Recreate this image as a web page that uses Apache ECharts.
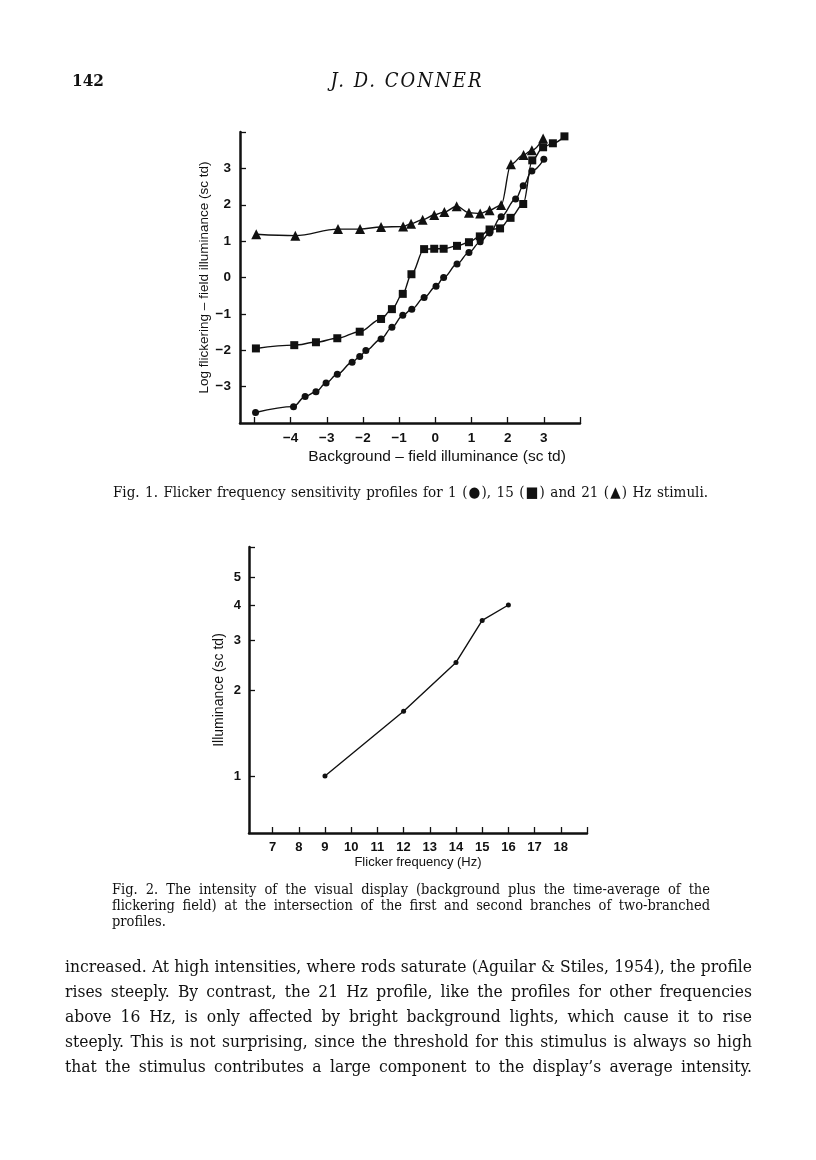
<!DOCTYPE html>
<html><head><meta charset="utf-8">
<script src="https://cdn.jsdelivr.net/npm/echarts@6/dist/echarts.min.js"></script>
<style>
html,body{margin:0;padding:0;background:#fff;}
#page{position:relative;width:816px;height:1160px;overflow:hidden;}
#chart{position:absolute;left:0;top:0;width:816px;height:1160px;}
.t{position:absolute;font-family:"DejaVu Serif Condensed","DejaVu Serif",serif;font-stretch:condensed;color:#111;white-space:nowrap;}
.j{text-align:justify;text-align-last:justify;white-space:normal;}
</style></head><body>
<div id="page">
<div id="chart"></div>
<div class="t" style="left:72px;top:70px;font-size:17px;font-weight:bold;">142</div>
<div class="t" style="left:297px;top:68px;width:220px;font-size:20px;font-style:italic;text-align:center;letter-spacing:2px;">J. D. CONNER</div>
<div class="t j" style="left:113px;top:483px;width:595px;font-size:15px;">Fig. 1. Flicker frequency sensitivity profiles for 1 (●), 15 (■) and 21 (▲) Hz stimuli.</div>
<div class="t j" style="left:112px;top:881px;width:598px;font-size:14.5px;">Fig. 2. The intensity of the visual display (background plus the time-average of the</div>
<div class="t j" style="left:112px;top:897px;width:598px;font-size:14.5px;">flickering field) at the intersection of the first and second branches of two-branched</div>
<div class="t" style="left:112px;top:913px;font-size:14.5px;">profiles.</div>
<div class="t j" style="left:65px;top:956px;width:687px;font-size:17.3px;">increased. At high intensities, where rods saturate (Aguilar &amp; Stiles, 1954), the profile</div>
<div class="t j" style="left:65px;top:981px;width:687px;font-size:17.3px;">rises steeply. By contrast, the 21 Hz profile, like the profiles for other frequencies</div>
<div class="t j" style="left:65px;top:1006px;width:687px;font-size:17.3px;">above 16 Hz, is only affected by bright background lights, which cause it to rise</div>
<div class="t j" style="left:65px;top:1031px;width:687px;font-size:17.3px;">steeply. This is not surprising, since the threshold for this stimulus is always so high</div>
<div class="t j" style="left:65px;top:1056px;width:687px;font-size:17.3px;">that the stimulus contributes a large component to the display’s average intensity.</div>
</div>
<script>
// Fig. 1 data (log background vs log threshold)
const circleX = [-4.97,-3.92,-3.60,-3.30,-3.02,-2.71,-2.30,-2.09,-1.92,-1.50,-1.20,-0.90,-0.65,-0.31,0.02,0.23,0.60,0.93,1.24,1.50,1.82,2.22,2.43,2.67,3.00];
const circleY = [-3.71,-3.55,-3.27,-3.14,-2.90,-2.66,-2.33,-2.17,-2.01,-1.69,-1.37,-1.04,-0.87,-0.55,-0.24,0.00,0.37,0.69,0.98,1.22,1.67,2.16,2.52,2.93,3.25];
const squareX = [-4.96,-3.90,-3.30,-2.71,-2.09,-1.50,-1.20,-0.90,-0.66,-0.31,-0.03,0.23,0.60,0.93,1.23,1.50,1.79,2.08,2.43,2.68,2.98,3.25,3.57];
const squareY = [-1.95,-1.86,-1.78,-1.67,-1.49,-1.14,-0.87,-0.45,0.09,0.78,0.79,0.79,0.87,0.97,1.13,1.32,1.35,1.64,2.02,3.22,3.58,3.69,3.88];
const triX = [-4.95,-3.87,-2.69,-2.08,-1.50,-0.89,-0.67,-0.35,-0.03,0.25,0.59,0.93,1.24,1.50,1.82,2.09,2.44,2.67,2.98];
const triY = [1.19,1.15,1.33,1.33,1.39,1.40,1.48,1.59,1.72,1.80,1.96,1.78,1.76,1.85,1.99,3.11,3.37,3.50,3.82];
const fig1XTicks = [-5,-4,-3,-2,-1,0,1,2,3,4];
const fig1XLabels = [-4,-3,-2,-1,0,1,2,3];
const fig1YTicks = [-3,-2,-1,0,1,2,3,4];
const fig1YLabels = [-3,-2,-1,0,1,2,3];
// Fig. 2 data
const freqHz = [9,12,14,15,16];
const illum = [1.0,1.69,2.51,3.53,4.0];
const fig2XTicks = [7,8,9,10,11,12,13,14,15,16,17,18,19];
const fig2XLabels = [7,8,9,10,11,12,13,14,15,16,17,18];
const fig2YTicks = [1,2,3,4,5,6.4];
const fig2YLabels = [1,2,3,4,5];

const ink = '#111';
const zip = (a,b) => a.map((v,i)=>[v,b[i]]);
const minus = v => v < 0 ? '\u2212' + (-v) : String(v);
const sans = '"Liberation Sans", Arial, sans-serif';

function axisBase(extra) {
  return Object.assign({
    axisLine: {show: true, onZero: false, lineStyle: {color: ink, width: 2.5}},
    splitLine: {show: false}
  }, extra);
}
const nameStyle = (size, pad) => ({color: ink, fontFamily: sans, fontSize: size, padding: pad || 0});

const chart = echarts.init(document.getElementById('chart'), null, {renderer: 'canvas'});
const lineSeries = (name, data, symbol, size, xi) => ({
  name, type: 'line', xAxisIndex: xi, yAxisIndex: xi, data,
  symbol, symbolSize: size, smooth: xi === 0 ? 0.35 : false, smoothMonotone: xi === 0 ? 'x' : undefined,
  lineStyle: {color: ink, width: 1.4}, itemStyle: {color: ink}, animation: false
});

chart.setOption({
  animation: false,
  grid: [
    {left: 240, top: 132, width: 340, height: 291},
    {left: 249, top: 547, width: 338, height: 286}
  ],
  xAxis: [
    axisBase({gridIndex: 0, type: 'value', min: -5.4, max: 4,
      axisTick: {show: true, inside: true, length: 6, customValues: fig1XTicks, lineStyle: {color: ink, width: 1.3}},
      axisLabel: {customValues: fig1XLabels, formatter: minus, margin: 8, color: ink, fontFamily: sans, fontSize: 13.5, fontWeight: 'bold'},
      name: 'Background \u2013 field illuminance (sc td)', nameLocation: 'middle', nameGap: 26,
      nameTextStyle: nameStyle(15.5, [0, 0, 0, 54])}),
    axisBase({gridIndex: 1, type: 'value', min: 6.1, max: 19,
      axisTick: {show: true, inside: true, length: 6, customValues: fig2XTicks, lineStyle: {color: ink, width: 1.3}},
      axisLabel: {customValues: fig2XLabels, margin: 8, color: ink, fontFamily: sans, fontSize: 13, fontWeight: 'bold'},
      name: 'Flicker frequency (Hz)', nameLocation: 'middle', nameGap: 23, nameTextStyle: nameStyle(13)})
  ],
  yAxis: [
    axisBase({gridIndex: 0, type: 'value', min: -4, max: 4,
      axisTick: {show: true, inside: true, length: 6, customValues: fig1YTicks, lineStyle: {color: ink, width: 1.3}},
      axisLabel: {customValues: fig1YLabels, formatter: minus, margin: 9, color: ink, fontFamily: sans, fontSize: 13.5, fontWeight: 'bold'},
      name: 'Log flickering \u2013 field illuminance (sc td)', nameLocation: 'middle', nameGap: 15, nameTextStyle: nameStyle(13.5)}),
    axisBase({gridIndex: 1, type: 'log', logBase: 10, min: 0.63, max: 6.4,
      axisTick: {show: true, inside: true, length: 6, customValues: fig2YTicks, lineStyle: {color: ink, width: 1.3}},
      axisLabel: {customValues: fig2YLabels, margin: 8, color: ink, fontFamily: sans, fontSize: 13, fontWeight: 'bold'},
      minorTick: {show: false},
      name: 'Illuminance (sc td)', nameLocation: 'middle', nameGap: 23, nameTextStyle: nameStyle(14)})
  ],
  series: [
    lineSeries('1 Hz', zip(circleX, circleY), 'circle', 7, 0),
    lineSeries('15 Hz', zip(squareX, squareY), 'rect', 8, 0),
    lineSeries('21 Hz', zip(triX, triY), 'triangle', 10, 0),
    lineSeries('Fig2', zip(freqHz, illum), 'circle', 5, 1)
  ]
});
</script>
</body></html>
